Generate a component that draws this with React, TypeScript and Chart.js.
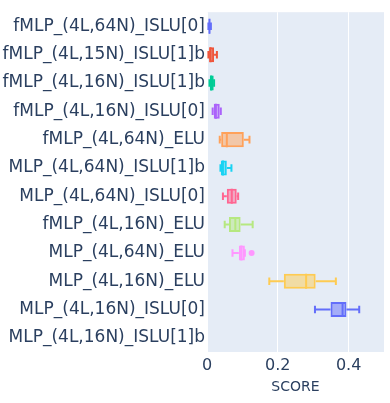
import React, { useEffect, useRef } from "react";
import { Chart, registerables } from "chart.js";

Chart.register(...registerables);

const categories = [
  "fMLP_(4L,64N)_ISLU[0]",
  "fMLP_(4L,15N)_ISLU[1]b",
  "fMLP_(4L,16N)_ISLU[1]b",
  "fMLP_(4L,16N)_ISLU[0]",
  "fMLP_(4L,64N)_ELU",
  "MLP_(4L,64N)_ISLU[1]b",
  "MLP_(4L,64N)_ISLU[0]",
  "fMLP_(4L,16N)_ELU",
  "MLP_(4L,64N)_ELU",
  "MLP_(4L,16N)_ELU",
  "MLP_(4L,16N)_ISLU[0]",
  "MLP_(4L,16N)_ISLU[1]b",
];

const lowerFence: (number | null)[] = [0.004, 0.004, 0.007, 0.016, 0.036, 0.038, 0.045, 0.05, 0.072, 0.176, 0.305, null];
const q1: (number | null)[] = [0.005, 0.006, 0.008, 0.019, 0.04, 0.039, 0.056, 0.062, 0.09, 0.217, 0.349, null];
const median: (number | null)[] = [0.007, 0.01, 0.012, 0.025, 0.056, 0.045, 0.07, 0.08, 0.097, 0.28, 0.383, null];
const q3: (number | null)[] = [0.009, 0.02, 0.019, 0.036, 0.104, 0.056, 0.084, 0.095, 0.107, 0.307, 0.394, null];
const upperFence: (number | null)[] = [0.011, 0.028, 0.02, 0.039, 0.12, 0.069, 0.088, 0.129, 0.107, 0.364, 0.43, null];
const outliers: number[][] = [[], [], [], [], [], [], [], [], [0.126], [], [], []];

const colors = [
  "#636efa", "#EF553B", "#00cc96", "#ab63fa", "#FFA15A", "#19d3f3",
  "#FF6692", "#B6E880", "#FF97FF", "#FECB52", "#636efa", "#EF553B",
];

const xTicks = [0, 0.2, 0.4];

function hexA(hex: string, a: number) {
  const h = hex.replace("#", "");
  const r = parseInt(h.slice(0, 2), 16);
  const g = parseInt(h.slice(2, 4), 16);
  const b = parseInt(h.slice(4, 6), 16);
  return `rgba(${r},${g},${b},${a})`;
}

const FONT = "'DejaVu Sans', Verdana, sans-serif";
const TEXT = "#2a3f5f";

export default function App() {
  const ref = useRef<HTMLCanvasElement | null>(null);

  useEffect(() => {
    document.body.style.margin = "0";
    const canvas = ref.current!;
    const bgPlugin = {
      id: "plotbg",
      beforeDraw(chart: any) {
        const { ctx, chartArea } = chart;
        ctx.save();
        ctx.fillStyle = "#E5ECF6";
        ctx.fillRect(chartArea.left, chartArea.top, chartArea.right - chartArea.left, chartArea.bottom - chartArea.top);
        ctx.restore();
      },
    };
    const boxPlugin = {
      id: "boxparts",
      afterDatasetsDraw(chart: any) {
        const { ctx } = chart;
        const xs = chart.scales.x;
        const meta = chart.getDatasetMeta(0);
        ctx.save();
        ctx.lineWidth = 2;
        categories.forEach((_, i) => {
          if (q1[i] == null) return;
          const el = meta.data[i] as any;
          const y = el.y;
          const h = el.height;
          const c = colors[i];
          ctx.strokeStyle = c;
          const xl = xs.getPixelForValue(lowerFence[i]);
          const x1 = xs.getPixelForValue(q1[i]);
          const x3 = xs.getPixelForValue(q3[i]);
          const xu = xs.getPixelForValue(upperFence[i]);
          const xm = xs.getPixelForValue(median[i]);
          const cap = h / 4;
          ctx.beginPath();
          ctx.moveTo(xl, y); ctx.lineTo(x1, y);
          ctx.moveTo(x3, y); ctx.lineTo(xu, y);
          ctx.moveTo(xl, y - cap); ctx.lineTo(xl, y + cap);
          ctx.moveTo(xu, y - cap); ctx.lineTo(xu, y + cap);
          ctx.moveTo(xm, y - h / 2); ctx.lineTo(xm, y + h / 2);
          ctx.stroke();
          ctx.fillStyle = c;
          outliers[i].forEach((v) => {
            ctx.beginPath();
            ctx.arc(xs.getPixelForValue(v), y, 3, 0, Math.PI * 2);
            ctx.fill();
          });
        });
        ctx.restore();
      },
    };

    const chart = new Chart(canvas, {
      type: "bar",
      data: {
        labels: categories,
        datasets: [
          {
            data: categories.map((_, i) => (q1[i] == null ? null : [q1[i], q3[i]])) as any,
            backgroundColor: colors.map((c) => hexA(c, 0.5)),
            borderColor: colors,
            borderWidth: 2,
            borderSkipped: false,
            categoryPercentage: 1,
            barPercentage: 0.53,
          },
        ],
      },
      options: {
        indexAxis: "y",
        responsive: false,
        animation: false,
        layout: { padding: { top: 3, right: 6, bottom: 0, left: 0 } },
        plugins: { legend: { display: false }, tooltip: { enabled: false } },
        scales: {
          x: {
            min: 0,
            max: 0.5,
            afterBuildTicks(scale: any) {
              scale.ticks = xTicks.map((v) => ({ value: v }));
            },
            afterFit(scale: any) {
              scale.height = 51;
            },
            ticks: {
              color: TEXT,
              font: { family: FONT, size: 16 },
              padding: 4,
              maxRotation: 0,
              callback: (v: any) => String(v),
            },
            grid: { color: "#ffffff", lineWidth: 1, drawTicks: false },
            border: { display: false },
            title: {
              display: true,
              text: "SCORE",
              color: TEXT,
              font: { family: FONT, size: 14 },
              padding: { top: 4, bottom: 7 },
            },
          },
          y: {
            afterFit(scale: any) {
              scale.width = 207;
            },
            ticks: {
              color: TEXT,
              font: { family: FONT, size: 17 },
              padding: 2,
              autoSkip: false,
            },
            grid: { display: false, drawTicks: false },
            border: { display: false },
          },
        },
      },
      plugins: [bgPlugin, boxPlugin],
    });
    return () => chart.destroy();
  }, []);

  return <canvas ref={ref} width={390} height={403} style={{ display: "block" }} />;
}
